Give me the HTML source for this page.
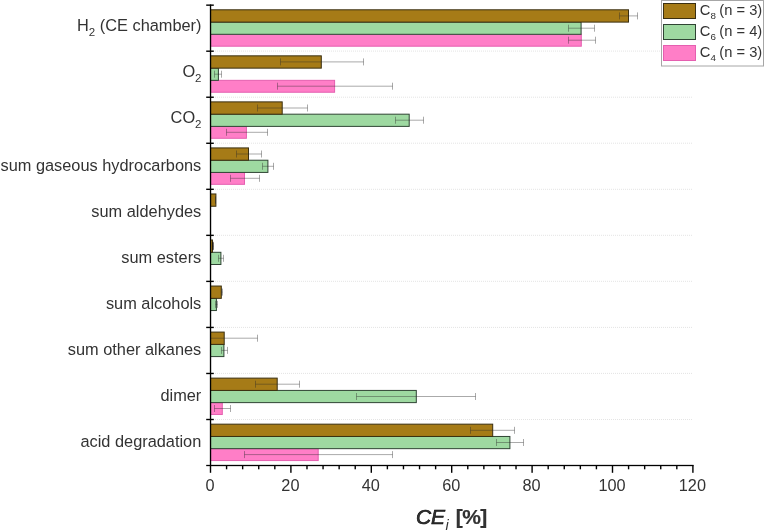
<!DOCTYPE html>
<html><head><meta charset="utf-8"><title>CE chart</title>
<style>html,body{margin:0;padding:0;background:#fff;}svg{display:block}text{font-family:"Liberation Sans",sans-serif;fill:#333}</style>
</head><body>
<svg width="764" height="530" viewBox="0 0 764 530">
<rect width="764" height="530" fill="#fff"/>
<defs><clipPath id="pc"><rect x="211.0" y="0" width="560" height="466"/></clipPath></defs>
<g stroke="#e4e4e4" stroke-width="1" stroke-dasharray="1 1" fill="none">
<line x1="215" y1="51.1" x2="693" y2="51.1"/>
<line x1="215" y1="97.2" x2="693" y2="97.2"/>
<line x1="215" y1="143.2" x2="693" y2="143.2"/>
<line x1="215" y1="189.3" x2="693" y2="189.3"/>
<line x1="215" y1="235.3" x2="693" y2="235.3"/>
<line x1="215" y1="281.3" x2="693" y2="281.3"/>
<line x1="215" y1="327.4" x2="693" y2="327.4"/>
<line x1="215" y1="373.4" x2="693" y2="373.4"/>
<line x1="215" y1="419.5" x2="693" y2="419.5"/>
</g>
<g clip-path="url(#pc)">
<rect x="208.0" y="34.30" width="373.3" height="11.90" fill="#FF7EC7" stroke="#E55FB0" stroke-width="1"/>
<rect x="208.0" y="22.10" width="373.1" height="12.20" fill="#9ED9A1" stroke="#2f4434" stroke-width="1"/>
<rect x="208.0" y="9.80" width="420.5" height="12.30" fill="#A67B17" stroke="#3a2f11" stroke-width="1"/>
<rect x="208.0" y="80.34" width="126.6" height="11.90" fill="#FF7EC7" stroke="#E55FB0" stroke-width="1"/>
<rect x="208.0" y="68.14" width="10.4" height="12.20" fill="#9ED9A1" stroke="#2f4434" stroke-width="1"/>
<rect x="208.0" y="55.84" width="113.3" height="12.30" fill="#A67B17" stroke="#3a2f11" stroke-width="1"/>
<rect x="208.0" y="126.38" width="38.4" height="11.90" fill="#FF7EC7" stroke="#E55FB0" stroke-width="1"/>
<rect x="208.0" y="114.18" width="201.2" height="12.20" fill="#9ED9A1" stroke="#2f4434" stroke-width="1"/>
<rect x="208.0" y="101.88" width="74.2" height="12.30" fill="#A67B17" stroke="#3a2f11" stroke-width="1"/>
<rect x="208.0" y="172.42" width="36.5" height="11.90" fill="#FF7EC7" stroke="#E55FB0" stroke-width="1"/>
<rect x="208.0" y="160.22" width="59.9" height="12.20" fill="#9ED9A1" stroke="#2f4434" stroke-width="1"/>
<rect x="208.0" y="147.92" width="40.5" height="12.30" fill="#A67B17" stroke="#3a2f11" stroke-width="1"/>
<rect x="208.0" y="193.96" width="7.9" height="12.30" fill="#A67B17" stroke="#3a2f11" stroke-width="1"/>
<rect x="208.0" y="252.30" width="12.9" height="12.20" fill="#9ED9A1" stroke="#2f4434" stroke-width="1"/>
<rect x="208.0" y="240.00" width="4.5" height="12.30" fill="#A67B17" stroke="#3a2f11" stroke-width="1"/>
<rect x="208.0" y="298.34" width="8.4" height="12.20" fill="#9ED9A1" stroke="#2f4434" stroke-width="1"/>
<rect x="208.0" y="286.04" width="13.3" height="12.30" fill="#A67B17" stroke="#3a2f11" stroke-width="1"/>
<rect x="208.0" y="344.38" width="15.9" height="12.20" fill="#9ED9A1" stroke="#2f4434" stroke-width="1"/>
<rect x="208.0" y="332.08" width="16.2" height="12.30" fill="#A67B17" stroke="#3a2f11" stroke-width="1"/>
<rect x="208.0" y="402.62" width="14.3" height="11.90" fill="#FF7EC7" stroke="#E55FB0" stroke-width="1"/>
<rect x="208.0" y="390.42" width="208.3" height="12.20" fill="#9ED9A1" stroke="#2f4434" stroke-width="1"/>
<rect x="208.0" y="378.12" width="69.2" height="12.30" fill="#A67B17" stroke="#3a2f11" stroke-width="1"/>
<rect x="208.0" y="448.66" width="110.2" height="11.90" fill="#FF7EC7" stroke="#E55FB0" stroke-width="1"/>
<rect x="208.0" y="436.46" width="301.9" height="12.20" fill="#9ED9A1" stroke="#2f4434" stroke-width="1"/>
<rect x="208.0" y="424.16" width="284.7" height="12.30" fill="#A67B17" stroke="#3a2f11" stroke-width="1"/>
</g>
<g clip-path="url(#pc)" stroke="#2a2a2a" stroke-opacity="0.4" stroke-width="1" fill="none">
<path d="M619.5 15.9H637.5M619.5 12.4v7M637.5 12.4v7"/>
<path d="M568.5 28.2H594.5M568.5 24.7v7M594.5 24.7v7"/>
<path d="M568.5 40.2H595.5M568.5 36.7v7M595.5 36.7v7"/>
<path d="M280.5 61.9H363.5M280.5 58.4v7M363.5 58.4v7"/>
<path d="M214.5 74.2H221.5M214.5 70.7v7M221.5 70.7v7"/>
<path d="M277.5 86.2H392.5M277.5 82.7v7M392.5 82.7v7"/>
<path d="M257.5 108.0H307.5M257.5 104.5v7M307.5 104.5v7"/>
<path d="M395.5 120.2H423.5M395.5 116.7v7M423.5 116.7v7"/>
<path d="M226.5 132.3H267.5M226.5 128.8v7M267.5 128.8v7"/>
<path d="M236.5 154.0H261.5M236.5 150.5v7M261.5 150.5v7"/>
<path d="M262.5 166.3H273.5M262.5 162.8v7M273.5 162.8v7"/>
<path d="M230.5 178.3H259.5M230.5 174.8v7M259.5 174.8v7"/>
<path d="M215.5 200.1H215.5M215.5 196.6v7M215.5 196.6v7"/>
<path d="M212.5 246.1H213.5M212.5 242.6v7M213.5 242.6v7"/>
<path d="M218.5 258.3H223.5M218.5 254.8v7M223.5 254.8v7"/>
<path d="M221.5 292.1H222.5M221.5 288.6v7M222.5 288.6v7"/>
<path d="M215.5 304.4H217.5M215.5 300.9v7M217.5 300.9v7"/>
<path d="M190.5 338.2H257.5M190.5 334.7v7M257.5 334.7v7"/>
<path d="M221.5 350.4H227.5M221.5 346.9v7M227.5 346.9v7"/>
<path d="M255.5 384.2H299.5M255.5 380.7v7M299.5 380.7v7"/>
<path d="M356.5 396.5H475.5M356.5 393.0v7M475.5 393.0v7"/>
<path d="M214.5 408.5H230.5M214.5 405.0v7M230.5 405.0v7"/>
<path d="M470.5 430.3H514.5M470.5 426.8v7M514.5 426.8v7"/>
<path d="M496.5 442.5H523.5M496.5 439.0v7M523.5 439.0v7"/>
<path d="M244.5 454.6H392.5M244.5 451.1v7M392.5 451.1v7"/>
</g>
<rect x="212.2" y="241.8" width="1.3" height="8.4" fill="#1a1408" opacity="0.8"/>
<g fill="#000">
<rect x="209.85" y="4.5" width="1.35" height="461.5"/>
<rect x="206.2" y="464.85" width="487.4" height="1.3"/>
<rect x="206.2" y="4.45" width="7.6" height="1.4"/>
<rect x="206.2" y="50.49" width="7.6" height="1.4"/>
<rect x="206.2" y="96.53" width="7.6" height="1.4"/>
<rect x="206.2" y="142.57" width="7.6" height="1.4"/>
<rect x="206.2" y="188.61" width="7.6" height="1.4"/>
<rect x="206.2" y="234.65" width="7.6" height="1.4"/>
<rect x="206.2" y="280.69" width="7.6" height="1.4"/>
<rect x="206.2" y="326.73" width="7.6" height="1.4"/>
<rect x="206.2" y="372.77" width="7.6" height="1.4"/>
<rect x="206.2" y="418.81" width="7.6" height="1.4"/>
<rect x="209.80" y="465.3" width="1.4" height="7.5"/>
<rect x="225.88" y="465.3" width="1.4" height="4.0"/>
<rect x="241.96" y="465.3" width="1.4" height="4.0"/>
<rect x="258.04" y="465.3" width="1.4" height="4.0"/>
<rect x="274.12" y="465.3" width="1.4" height="4.0"/>
<rect x="290.20" y="465.3" width="1.4" height="7.5"/>
<rect x="306.28" y="465.3" width="1.4" height="4.0"/>
<rect x="322.36" y="465.3" width="1.4" height="4.0"/>
<rect x="338.44" y="465.3" width="1.4" height="4.0"/>
<rect x="354.52" y="465.3" width="1.4" height="4.0"/>
<rect x="370.60" y="465.3" width="1.4" height="7.5"/>
<rect x="386.68" y="465.3" width="1.4" height="4.0"/>
<rect x="402.76" y="465.3" width="1.4" height="4.0"/>
<rect x="418.84" y="465.3" width="1.4" height="4.0"/>
<rect x="434.92" y="465.3" width="1.4" height="4.0"/>
<rect x="451.00" y="465.3" width="1.4" height="7.5"/>
<rect x="467.08" y="465.3" width="1.4" height="4.0"/>
<rect x="483.16" y="465.3" width="1.4" height="4.0"/>
<rect x="499.24" y="465.3" width="1.4" height="4.0"/>
<rect x="515.32" y="465.3" width="1.4" height="4.0"/>
<rect x="531.40" y="465.3" width="1.4" height="7.5"/>
<rect x="547.48" y="465.3" width="1.4" height="4.0"/>
<rect x="563.56" y="465.3" width="1.4" height="4.0"/>
<rect x="579.64" y="465.3" width="1.4" height="4.0"/>
<rect x="595.72" y="465.3" width="1.4" height="4.0"/>
<rect x="611.80" y="465.3" width="1.4" height="7.5"/>
<rect x="627.88" y="465.3" width="1.4" height="4.0"/>
<rect x="643.96" y="465.3" width="1.4" height="4.0"/>
<rect x="660.04" y="465.3" width="1.4" height="4.0"/>
<rect x="676.12" y="465.3" width="1.4" height="4.0"/>
<rect x="692.20" y="465.3" width="1.4" height="7.5"/>
</g>
<g font-size="16.3px" text-anchor="middle">
<text x="210.0" y="491">0</text>
<text x="290.4" y="491">20</text>
<text x="370.8" y="491">40</text>
<text x="451.2" y="491">60</text>
<text x="531.6" y="491">80</text>
<text x="612.0" y="491">100</text>
<text x="692.4" y="491">120</text>
</g>
<g font-size="16.35px" text-anchor="end">
<text x="201.5" y="31.3" transform="rotate(0.02 201.5 31.3)">H<tspan font-size="11.5px" dy="4.4">2</tspan><tspan dy="-4.4"> (CE chamber)</tspan></text>
<text x="201.5" y="77.2" transform="rotate(0.02 201.5 77.2)">O<tspan font-size="11.5px" dy="4.7">2</tspan><tspan dy="-4.7"></tspan></text>
<text x="201.5" y="123.5" transform="rotate(0.02 201.5 123.5)">CO<tspan font-size="11.5px" dy="4.8">2</tspan><tspan dy="-4.8"></tspan></text>
<text x="201.3" y="170.9">sum gaseous hydrocarbons</text>
<text x="201.3" y="217.0">sum aldehydes</text>
<text x="201.3" y="263.0">sum esters</text>
<text x="201.3" y="309.0">sum alcohols</text>
<text x="201.3" y="355.1">sum other alkanes</text>
<text x="201.3" y="401.1">dimer</text>
<text x="201.3" y="447.2">acid degradation</text>
</g>
<text x="415.9" y="523.6" font-size="21px" fill="#000"><tspan font-style="italic" stroke="#000" stroke-width="0.6">CE</tspan><tspan font-style="italic" font-size="14.5px" dy="6.5" dx="0.5">i</tspan><tspan dy="-6.5" dx="1.8" font-weight="bold" letter-spacing="-0.6" stroke="#000" stroke-width="0.15"> [%]</tspan></text>
<rect x="661.5" y="0.5" width="102" height="65.5" fill="#fff" stroke="#a6a6a6" stroke-width="1"/>
<rect x="663.5" y="3.5" width="32" height="15" fill="#A67B17" stroke="#3a2f11" stroke-width="1"/>
<text x="699.8" y="15.3" font-size="14.7px" fill="#222">C<tspan font-size="9.8px" dy="3.3">8</tspan><tspan dy="-3.3" dx="-0.6"> (n = 3)</tspan></text>
<rect x="663.5" y="24.5" width="32" height="15" fill="#9ED9A1" stroke="#2f4434" stroke-width="1"/>
<text x="699.8" y="36.3" font-size="14.7px" fill="#222">C<tspan font-size="9.8px" dy="3.3">6</tspan><tspan dy="-3.3" dx="-0.6"> (n = 4)</tspan></text>
<rect x="663.5" y="45.5" width="32" height="15" fill="#FF7EC7" stroke="#E55FB0" stroke-width="1"/>
<text x="699.8" y="57.3" font-size="14.7px" fill="#222">C<tspan font-size="9.8px" dy="3.3">4</tspan><tspan dy="-3.3" dx="-0.6"> (n = 3)</tspan></text>
</svg>
</body></html>
